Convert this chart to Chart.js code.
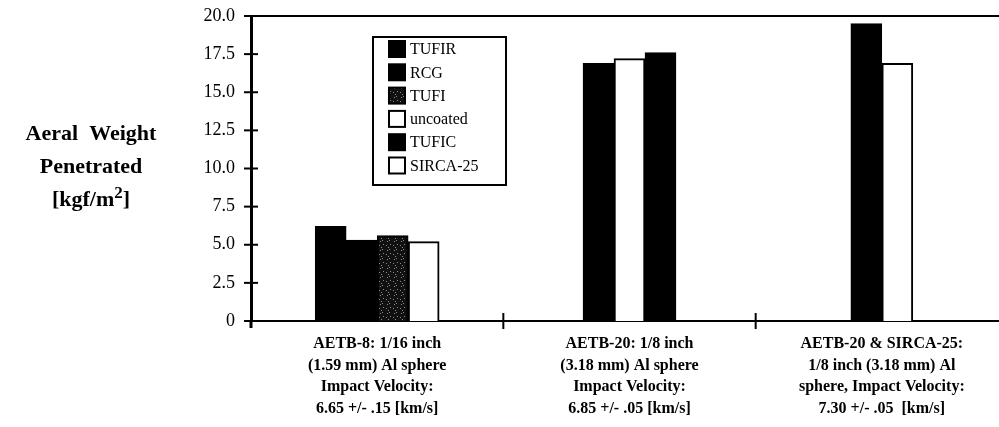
<!DOCTYPE html>
<html><head><meta charset="utf-8">
<script src="https://cdn.jsdelivr.net/npm/chart.js@4"></script>
<style>
html,body{margin:0;padding:0;background:#fff;overflow:hidden;}
#wrap{position:relative;width:999px;height:427px;overflow:hidden;}
#c{position:absolute;left:0;top:0;}
#ytitle{position:absolute;left:0;top:116px;width:182px;text-align:center;font:bold 22px "Liberation Serif",serif;line-height:33px;color:#000;}
#ytitle .sup{font-size:17px;vertical-align:8px;line-height:0;}
</style></head><body>
<div id="wrap"><canvas id="c" width="1008" height="427"></canvas>
<div id="ytitle">Aeral&nbsp;&nbsp;Weight<br>Penetrated<br>[kgf/m<span class="sup">2</span>]</div></div>
<script>
const categories = [
  ["AETB-8: 1/16 inch", "(1.59 mm) Al sphere", "Impact Velocity:", "6.65 +/- .15 [km/s]"],
  ["AETB-20: 1/8 inch", "(3.18 mm) Al sphere", "Impact Velocity:", "6.85 +/- .05 [km/s]"],
  ["AETB-20 & SIRCA-25:", "1/8 inch (3.18 mm) Al", "sphere, Impact Velocity:", "7.30 +/- .05  [km/s]"]
];
const seriesNames = ["TUFIR", "RCG", "TUFI", "uncoated", "TUFIC", "SIRCA-25"];
const TUFIR    = [6.2, null, null];
const RCG      = [5.3, 16.9, null];
const TUFI     = [5.6, null, null];
const uncoated = [5.2, 17.2, null];
const TUFIC    = [null, 17.6, 19.5];
const SIRCA25  = [null, null, 16.9];
const yTickValues = [0, 2.5, 5, 7.5, 10, 12.5, 15, 17.5, 20];

const canvas = document.getElementById('c');
const ctx0 = canvas.getContext('2d');
function speckle() {
  const p = document.createElement('canvas');
  p.width = 7; p.height = 9;
  const g = p.getContext('2d');
  g.fillStyle = '#111'; g.fillRect(0, 0, 7, 9);
  g.fillStyle = '#8a8a8a';
  [[1, 2], [4, 6], [2, 7], [5, 1], [3, 4]].forEach(([a, b]) => g.fillRect(a, b, 1, 1));
  return ctx0.createPattern(p, 'repeat');
}
const tufiPattern = speckle();
const fills = ['#000', '#000', tufiPattern, '#fff', '#000', '#fff'];
const seriesData = [TUFIR, RCG, TUFI, uncoated, TUFIC, SIRCA25];

const serif = '"Liberation Serif", "Times New Roman", serif';

const framePlugin = {
  id: 'frame',
  afterDraw(chart) {
    const ctx = chart.ctx, a = chart.chartArea;
    const xs = chart.scales.x, ys = chart.scales.y;
    ctx.save();
    ctx.strokeStyle = '#000';
    ctx.lineWidth = 2;
    ctx.beginPath(); ctx.moveTo(a.left, a.top); ctx.lineTo(chart.width, a.top); ctx.stroke();
    ys.ticks.forEach(t => {
      const py = ys.getPixelForValue(t.value);
      ctx.beginPath(); ctx.moveTo(a.left - 7, py); ctx.lineTo(a.left + 7, py); ctx.stroke();
    });
    ctx.lineWidth = 3;
    ctx.beginPath(); ctx.moveTo(a.left, a.bottom); ctx.lineTo(a.left, a.bottom + 7); ctx.stroke();
    ctx.lineWidth = 2;
    const half = (xs.getPixelForValue(1) - xs.getPixelForValue(0)) / 2;
    for (let i = 1; i < categories.length; i++) {
      const bx = xs.getPixelForValue(i) - half;
      ctx.beginPath(); ctx.moveTo(bx, a.bottom - 8); ctx.lineTo(bx, a.bottom + 8); ctx.stroke();
    }
    const lx = 373, ly = 37, lw = 133, lh = 148;
    ctx.lineWidth = 2;
    ctx.strokeRect(lx, ly, lw, lh);
    ctx.font = '16px ' + serif;
    ctx.textBaseline = 'middle';
    ctx.textAlign = 'left';
    chart.data.datasets.forEach((ds, i) => {
      const cy = ly + 12 + i * 23.3;
      ctx.fillStyle = ds.backgroundColor;
      ctx.fillRect(389, cy - 8, 16, 16);
      ctx.lineWidth = 2;
      ctx.strokeRect(389, cy - 8, 16, 16);
      ctx.fillStyle = '#000';
      ctx.fillText(ds.label, 410, cy + 1);
    });
    ctx.restore();
  }
};

new Chart(canvas, {
  type: 'bar',
  data: {
    labels: categories,
    datasets: seriesNames.map((name, i) => ({
      label: name,
      data: seriesData[i],
      backgroundColor: fills[i],
      borderColor: '#000',
      borderWidth: 2,
      borderSkipped: 'start',
      barThickness: 31,
      skipNull: true
    }))
  },
  options: {
    responsive: false,
    animation: false,
    devicePixelRatio: 1,
    layout: { padding: { top: 16, right: 0, left: 0, bottom: 0 } },
    plugins: { legend: { display: false }, tooltip: { enabled: false } },
    scales: {
      x: {
        grid: { display: false, drawTicks: false },
        border: { display: true, color: '#000', width: 2 },
        ticks: {
          color: '#000',
          font: { family: serif, size: 16, weight: 'bold', lineHeight: 1.35 },
          padding: 12,
          maxRotation: 0,
          autoSkip: false
        },
        afterFit(s) { s.height = 106; s.paddingLeft = 0; s.paddingRight = 0; }
      },
      y: {
        min: 0, max: 20,
        afterBuildTicks(s) { s.ticks = yTickValues.map(v => ({ value: v })); },
        grid: { display: false, drawTicks: false },
        border: { display: true, color: '#000', width: 3 },
        ticks: {
          color: '#000',
          font: { family: serif, size: 18 },
          padding: 16,
          callback: v => v === 0 ? '0' : Number(v).toFixed(1)
        },
        afterFit(s) { s.width = 251; s.paddingTop = 0; s.paddingBottom = 0; }
      }
    }
  },
  plugins: [framePlugin]
});
</script>
</body></html>
